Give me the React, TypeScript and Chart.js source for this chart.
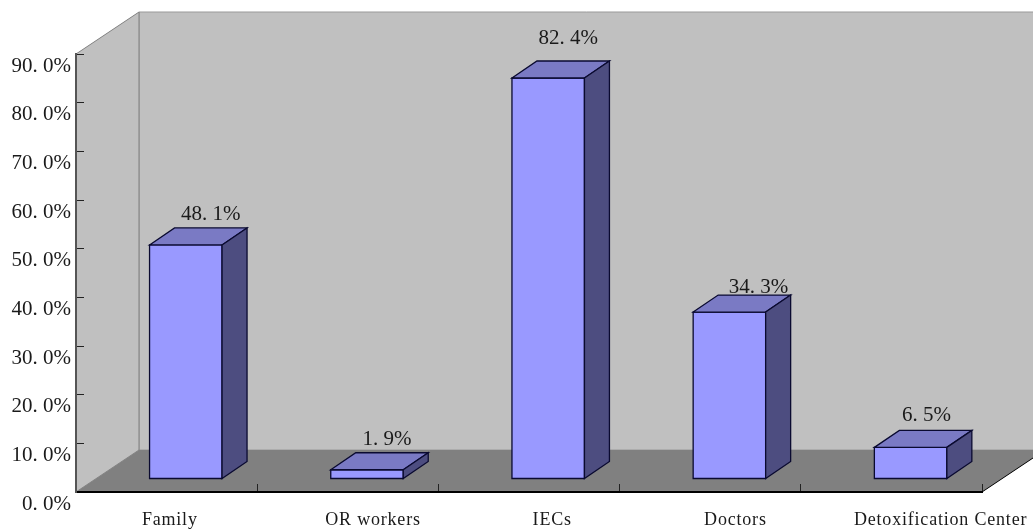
import React, { useEffect, useRef } from "react";
import { Chart, registerables, Plugin } from "chart.js";

Chart.register(...registerables);

const categories = ["Family", "OR workers", "IECs", "Doctors", "Detoxification Center"];
const percentages = [48.1, 1.9, 82.4, 34.3, 6.5];
const yTickLabels = ["0. 0%", "10. 0%", "20. 0%", "30. 0%", "40. 0%", "50. 0%", "60. 0%", "70. 0%", "80. 0%", "90. 0%"];

// Hand-placed nudges for the text around each column.
const categoryNudgeX = [-16, 6, 4, 6, 30];
const valueNudgeX = [25, 20, 20, 29, 16];
const valueNudgeY = [-30, -30, -40, -25, -32];

const SERIF = '"Liberation Serif", serif';
const WALL_DEPTH_X = 63;
const WALL_DEPTH_Y = 42;
const BAR_SHIFT_X = 19.2;
const BAR_SHIFT_Y = 13;
const BAR_DEPTH_X = 25;
const BAR_DEPTH_Y = 17;
const EDGE = "#0a0a30";
const EDGE_WIDTH = 1.3;

const formatValue = (v: number) => v.toFixed(1).replace(".", ". ") + "%";

const polygon = (ctx: CanvasRenderingContext2D, pts: number[][], fill: string | null, stroke?: string, lw = 1) => {
  ctx.beginPath();
  pts.forEach(([x, y], i) => (i ? ctx.lineTo(x, y) : ctx.moveTo(x, y)));
  ctx.closePath();
  if (fill) {
    ctx.fillStyle = fill;
    ctx.fill();
  }
  if (stroke) {
    ctx.strokeStyle = stroke;
    ctx.lineWidth = lw;
    ctx.stroke();
  }
};

// Back wall, side wall and floor of the 3D box.
const roomPlugin: Plugin<"bar"> = {
  id: "room",
  beforeDraw(chart) {
    const { ctx, chartArea: a, width } = chart;
    const bx = a.left + WALL_DEPTH_X;
    const ty = a.top - WALL_DEPTH_Y;
    const fy = a.bottom - WALL_DEPTH_Y;
    ctx.save();
    polygon(ctx, [[bx, ty], [width + 2, ty], [width + 2, fy], [bx, fy]], "#c0c0c0", "#999999", 1);
    polygon(ctx, [[a.left, a.top], [bx, ty], [bx, fy], [a.left, a.bottom]], "#c0c0c0", "#808080", 1);
    polygon(ctx, [[a.left, a.bottom], [bx, fy], [a.right + WALL_DEPTH_X, fy], [a.right, a.bottom]], "#808080");
    ctx.beginPath();
    ctx.moveTo(a.right, a.bottom);
    ctx.lineTo(a.right + WALL_DEPTH_X, fy);
    ctx.strokeStyle = "#000000";
    ctx.lineWidth = 1;
    ctx.stroke();
    ctx.restore();
  },
};

// Moves the columns onto the floor and adds their top and side faces.
const columnPlugin: Plugin<"bar"> = {
  id: "columns",
  beforeDatasetDraw(chart) {
    chart.ctx.save();
    chart.ctx.translate(BAR_SHIFT_X, -BAR_SHIFT_Y);
  },
  afterDatasetDraw(chart, args) {
    const { ctx } = chart;
    chart.getDatasetMeta(args.index).data.forEach((el) => {
      const { x, y, base, width } = el.getProps(["x", "y", "base", "width"], true) as any;
      const l = x - width / 2;
      const r = x + width / 2;
      polygon(ctx, [[l, y], [r, y], [r, base], [l, base]], null, EDGE, EDGE_WIDTH);
      polygon(ctx, [[l, y], [l + BAR_DEPTH_X, y - BAR_DEPTH_Y], [r + BAR_DEPTH_X, y - BAR_DEPTH_Y], [r, y]], "#7a7ac4", EDGE, EDGE_WIDTH);
      polygon(ctx, [[r, y], [r + BAR_DEPTH_X, y - BAR_DEPTH_Y], [r + BAR_DEPTH_X, base - BAR_DEPTH_Y], [r, base]], "#4d4d80", EDGE, EDGE_WIDTH);
    });
    ctx.restore();
  },
};

// Category names below the floor and the value above each column.
const textPlugin: Plugin<"bar"> = {
  id: "columnText",
  afterDraw(chart) {
    const { ctx, chartArea: a } = chart;
    const meta = chart.getDatasetMeta(0);
    ctx.save();
    ctx.textBaseline = "middle";
    ctx.textAlign = "center";
    ctx.fillStyle = "#1a1a1a";
    meta.data.forEach((el, i) => {
      const x = el.x + BAR_SHIFT_X;
      const top = el.y - BAR_SHIFT_Y;
      ctx.font = `18px ${SERIF}`;
      (ctx as any).letterSpacing = "0.8px";
      ctx.fillText(categories[i], x + categoryNudgeX[i], a.bottom + 28);
      ctx.font = `21px ${SERIF}`;
      (ctx as any).letterSpacing = "0px";
      ctx.fillText(formatValue(percentages[i]), x + valueNudgeX[i], top + valueNudgeY[i]);
    });
    ctx.restore();
  },
};

export default function App() {
  const ref = useRef<HTMLCanvasElement>(null);
  useEffect(() => {
    const chart = new Chart(ref.current!, {
      type: "bar",
      data: {
        labels: categories,
        datasets: [
          {
            data: percentages,
            backgroundColor: "#9999ff",
            borderWidth: 0,
            barPercentage: 1,
            categoryPercentage: 0.4,
          },
        ],
      },
      options: {
        responsive: false,
        animation: false,
        layout: { padding: { top: 54, right: 51, left: 0, bottom: 0 } },
        plugins: { legend: { display: false }, tooltip: { enabled: false } },
        scales: {
          x: {
            afterFit: (s: any) => {
              s.height = 38;
            },
            grid: { drawOnChartArea: false, tickLength: -8, color: "#222222" },
            border: { color: "#000000", width: 2 },
            ticks: { display: false },
          },
          y: {
            min: 0,
            max: 90,
            afterFit: (s: any) => {
              s.width = 76;
            },
            grid: { drawOnChartArea: false, tickLength: -8, color: "#222222" },
            border: { color: "#555555", width: 2 },
            ticks: {
              stepSize: 10,
              padding: 13,
              labelOffset: 12,
              color: "#1a1a1a",
              font: { family: SERIF, size: 21 },
              callback: (_v: any, i: number) => yTickLabels[i],
            },
          },
        },
      },
      plugins: [roomPlugin, columnPlugin, textPlugin],
    });
    return () => chart.destroy();
  }, []);
  return (
    <div style={{ position: "fixed", left: 0, top: 0, width: 1033, height: 530, background: "#ffffff" }}>
      <canvas ref={ref} width={1033} height={530} style={{ display: "block" }} />
    </div>
  );
}
